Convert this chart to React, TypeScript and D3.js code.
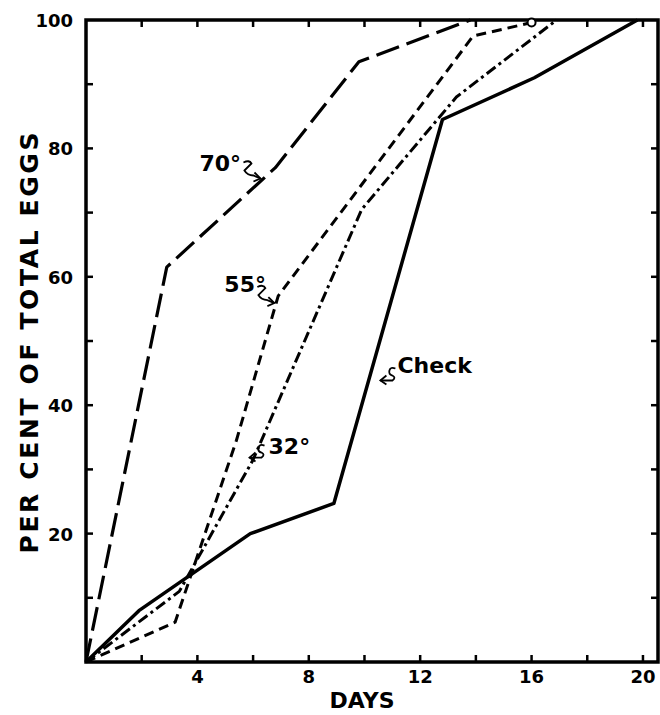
import React, { useRef, useEffect } from 'react';
import * as d3 from 'd3';

// days after treatment / cumulative per cent of eggs hatched
const checkDays = [0, 1.9, 5.9, 8.9, 12.8, 16.1, 19.8];
const checkPct = [0, 8, 20, 24.7, 84.5, 91, 100];
const t70Days = [0, 2.9, 6.8, 9.8, 13.8];
const t70Pct = [0, 61.5, 77, 93.5, 100];
const t55Days = [0, 3.2, 5.4, 6.9, 13.9, 16];
const t55Pct = [0, 6.2, 34.5, 57, 97.5, 99.6];
const t32Days = [0, 3.35, 6, 9.9, 13.3, 16.9];
const t32Pct = [0, 11, 31.5, 70.5, 88, 100];

const xTickLabels = [4, 8, 12, 16, 20];
const yTickLabels = [20, 40, 60, 80, 100];

// curve labels and where their arrows point (day, pct)
const labelNames = ['70°', '55°', '32°', 'Check'];
const labelTipDays = [6.3, 6.8, 5.8, 10.5];
const labelTipPct = [75, 55.6, 32, 44];

export default function App() {
  const svgRef = useRef<SVGSVGElement | null>(null);

  useEffect(() => {
    if (!svgRef.current) return;
    const svg = d3.select(svgRef.current);
    svg.selectAll('*').remove();

    const width = 660;
    const height = 715;
    const font = "'DejaVu Sans', sans-serif";

    const x = d3.scaleLinear().domain([0, 20.54]).range([86, 658]);
    const y = d3.scaleLinear().domain([0, 100]).range([662, 20]);

    svg.attr('width', width).attr('height', height).attr('viewBox', `0 0 ${width} ${height}`);
    svg.append('rect').attr('width', width).attr('height', height).attr('fill', '#fff');

    // frame
    const [x0, x1] = x.range();
    const [y0, y1] = y.range();
    svg.append('rect')
      .attr('x', x0).attr('y', y1)
      .attr('width', x1 - x0).attr('height', y0 - y1)
      .attr('fill', 'none').attr('stroke', '#000').attr('stroke-width', 3.5);

    // inward ticks on all four sides
    const dayTicks = d3.range(2, 21, 2);
    const pctTicks = d3.range(10, 100, 10);
    const tl = 7;
    const ticks = svg.append('g').attr('stroke', '#000').attr('stroke-width', 2.5);
    dayTicks.forEach(d => {
      ticks.append('line').attr('x1', x(d)).attr('x2', x(d)).attr('y1', y0).attr('y2', y0 - tl);
      ticks.append('line').attr('x1', x(d)).attr('x2', x(d)).attr('y1', y1).attr('y2', y1 + tl);
    });
    pctTicks.forEach(p => {
      ticks.append('line').attr('x1', x0).attr('x2', x0 + tl).attr('y1', y(p)).attr('y2', y(p));
      ticks.append('line').attr('x1', x1).attr('x2', x1 - tl).attr('y1', y(p)).attr('y2', y(p));
    });

    // tick labels
    svg.append('g').selectAll('text').data(xTickLabels).enter().append('text')
      .attr('x', d => x(d)).attr('y', y0 + 21)
      .attr('text-anchor', 'middle')
      .attr('font-family', font).attr('font-size', 18).attr('font-weight', 'bold')
      .text(d => d);
    svg.append('g').selectAll('text').data(yTickLabels).enter().append('text')
      .attr('x', x0 - 13).attr('y', d => y(d) + 7)
      .attr('text-anchor', 'end')
      .attr('font-family', font).attr('font-size', 18).attr('font-weight', 'bold')
      .text(d => d);

    // axis titles
    svg.append('text')
      .attr('x', (x0 + x1) / 2 - 10).attr('y', 708)
      .attr('text-anchor', 'middle')
      .attr('font-family', font).attr('font-size', 22).attr('font-weight', 'bold')
      .text('DAYS');
    svg.append('text')
      .attr('transform', `translate(38, ${343}) rotate(-90)`)
      .attr('text-anchor', 'middle')
      .attr('font-family', font).attr('font-size', 25).attr('font-weight', 'bold')
      .attr('textLength', 421).attr('lengthAdjust', 'spacing')
      .text('PER CENT OF TOTAL EGGS');

    // curves
    const line = d3.line<[number, number]>().x(d => x(d[0])).y(d => y(d[1]));
    const series = [
      { days: checkDays, pct: checkPct, dash: null, w: 3.5 },
      { days: t70Days, pct: t70Pct, dash: '24,8', w: 3.2 },
      { days: t55Days, pct: t55Pct, dash: '10,6', w: 3 },
      { days: t32Days, pct: t32Pct, dash: '11,4,3,4', w: 3 },
    ];
    series.forEach(s => {
      const pts = s.days.map((d, i) => [d, s.pct[i]] as [number, number]);
      svg.append('path')
        .attr('d', line(pts))
        .attr('fill', 'none')
        .attr('stroke', '#000')
        .attr('stroke-width', s.w)
        .attr('stroke-linejoin', 'round')
        .attr('stroke-dasharray', s.dash);
    });

    // small open circle at end of 55° curve
    const last = t55Days.length - 1;
    svg.append('circle')
      .attr('cx', x(t55Days[last])).attr('cy', y(t55Pct[last]))
      .attr('r', 4).attr('fill', '#fff').attr('stroke', '#000').attr('stroke-width', 2);

    // curve labels with squiggly arrows
    labelNames.forEach((name, i) => {
      const tx = x(labelTipDays[i]);
      const ty = y(labelTipPct[i]);
      const g = svg.append('g').attr('transform', `translate(${tx},${ty})`);
      const leftSide = i < 2; // 70° and 55° sit up-left of their curve
      if (leftSide) {
        g.append('path')
          .attr('d', 'M-18,-18 Q-12,-21 -10,-17 L-17,-10 Q-14,-5 -8,-5 L-1,-2')
          .attr('fill', 'none').attr('stroke', '#000').attr('stroke-width', 1.8);
        g.append('path')
          .attr('d', 'M-7,-8 L-1,-2 L-8,1')
          .attr('fill', 'none').attr('stroke', '#000').attr('stroke-width', 1.8);
        g.append('text')
          .attr('x', i === 0 ? -62 : -51).attr('y', i === 0 ? -10 : -13)
          .attr('font-family', font).attr('font-size', 22).attr('font-weight', 'bold')
          .text(name);
      } else {
        g.append('path')
          .attr('d', 'M17,-11 Q12,-13 11,-9 Q10,-5 14,-4 Q18,-2 14,1 L2,1')
          .attr('fill', 'none').attr('stroke', '#000').attr('stroke-width', 1.8);
        g.append('path')
          .attr('d', 'M8,-4 L2,1 L8,5')
          .attr('fill', 'none').attr('stroke', '#000').attr('stroke-width', 1.8);
        g.append('text')
          .attr('x', i === 2 ? 21 : 19).attr('y', i === 2 ? -3 : -7)
          .attr('font-family', font).attr('font-size', 22).attr('font-weight', 'bold')
          .text(name);
      }
    });
  }, []);

  return (
    <svg ref={svgRef} style={{ position: 'absolute', left: 0, top: 0, display: 'block' }} />
  );
}
